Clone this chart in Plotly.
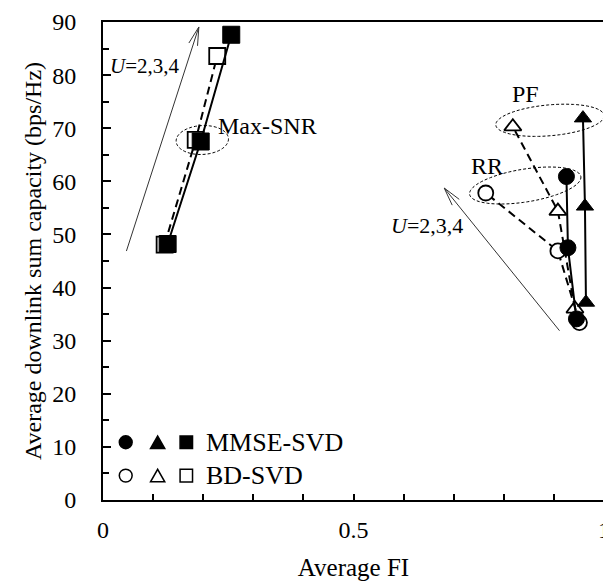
import math
import plotly.graph_objects as go

# ---------------- data ----------------
rr_mmse_fi = [0.945, 0.928, 0.925]
rr_mmse_cap = [34.1, 47.5, 60.9]
rr_bd_fi = [0.951, 0.908, 0.764]
rr_bd_cap = [33.4, 46.9, 57.8]

pf_mmse_fi = [0.964, 0.962, 0.958]
pf_mmse_cap = [37.2, 55.3, 71.9]
pf_bd_fi = [0.942, 0.908, 0.818]
pf_bd_cap = [36.0, 54.4, 70.3]

snr_mmse_fi = [0.129, 0.195, 0.256]
snr_mmse_cap = [48.2, 67.5, 87.6]
snr_bd_fi = [0.123, 0.185, 0.228]
snr_bd_cap = [48.1, 67.8, 83.6]

x_tick_vals = [0, 0.5, 1]
x_tick_text = ["0", "0.5", "1"]
y_tick_vals = [0, 10, 20, 30, 40, 50, 60, 70, 80, 90]

# ---------------- layout geometry (screen pixels) ----------------
OFF = 8                      # page body margin
W, H = 611 - OFF, 583 - OFF
PL, PR, PT, PB = 103, 610, 20, 500
XMAX, YMAX = 1.0, 90.0
FONT = "Liberation Serif, Times New Roman, serif"


def X(px):
    return (px - PL) / (PR - PL) * XMAX


def Y(py):
    return (PB - py) / (PB - PT) * YMAX


fig = go.Figure()

dash = "8px,5px"
BD_LINE = dict(color="black", width=2, dash=dash)
MM_LINE = dict(color="black", width=2)


def open_marker(symbol, size):
    return dict(symbol=symbol, size=size, color="white", line=dict(color="black", width=1.8))


def fill_marker(symbol, size):
    return dict(symbol=symbol, size=size, color="black", line=dict(color="black", width=1))


# BD-SVD first (drawn underneath)
fig.add_trace(go.Scatter(x=pf_bd_fi, y=pf_bd_cap, mode="lines+markers", line=BD_LINE,
                         marker=open_marker("triangle-up", 15), name="PF BD-SVD"))
fig.add_trace(go.Scatter(x=rr_bd_fi, y=rr_bd_cap, mode="lines+markers", line=BD_LINE,
                         marker=open_marker("circle", 15), name="RR BD-SVD"))
fig.add_trace(go.Scatter(x=snr_bd_fi, y=snr_bd_cap, mode="lines+markers", line=BD_LINE,
                         marker=open_marker("square", 16), name="Max-SNR BD-SVD"))
# MMSE-SVD
fig.add_trace(go.Scatter(x=pf_mmse_fi, y=pf_mmse_cap, mode="lines+markers", line=MM_LINE,
                         marker=fill_marker("triangle-up", 15), name="PF MMSE-SVD"))
fig.add_trace(go.Scatter(x=rr_mmse_fi, y=rr_mmse_cap, mode="lines+markers", line=MM_LINE,
                         marker=fill_marker("circle", 16), name="RR MMSE-SVD"))
fig.add_trace(go.Scatter(x=snr_mmse_fi, y=snr_mmse_cap, mode="lines+markers", line=MM_LINE,
                         marker=fill_marker("square", 17), name="Max-SNR MMSE-SVD"))

shapes = []


def ellipse(cx, cy, a, b, ang_deg, n=80):
    t = math.radians(ang_deg)
    pts = []
    for k in range(n + 1):
        th = 2 * math.pi * k / n
        ex, ey = a * math.cos(th), b * math.sin(th)
        px = cx + ex * math.cos(t) - ey * math.sin(t)
        py = cy + ex * math.sin(t) + ey * math.cos(t)
        pts.append(f"{X(px):.5f},{Y(py):.4f}")
    path = "M" + " L".join(pts) + " Z"
    shapes.append(dict(type="path", path=path, xref="x", yref="y",
                       line=dict(color="black", width=1, dash="3px,2px")))


ellipse(203.5, 138.5, 26.5, 14.5, -3)
ellipse(555.3, 118.7, 55, 15.5, -5)
ellipse(530.3, 184.2, 57, 16.5, -9)


def arrow(tx, ty, hx, hy, wing=19, spread=14):
    shapes.append(dict(type="line", xref="x", yref="y", x0=X(tx), y0=Y(ty), x1=X(hx), y1=Y(hy),
                       line=dict(color="#333", width=1)))
    ang = math.atan2(ty - hy, tx - hx)
    for s in (-1, 1):
        a = ang + s * math.radians(spread)
        wx, wy = hx + wing * math.cos(a), hy + wing * math.sin(a)
        shapes.append(dict(type="line", xref="x", yref="y", x0=X(hx), y0=Y(hy), x1=X(wx), y1=Y(wy),
                           line=dict(color="#333", width=1)))


arrow(126.7, 250, 200, 25)
arrow(565, 330, 448.3, 186.7)


# legend (drawn as shapes)
def leg_circle(cx, cy, filled, r=6.5):
    shapes.append(dict(type="circle", xref="x", yref="y", x0=X(cx - r), x1=X(cx + r),
                       y0=Y(cy + r), y1=Y(cy - r),
                       fillcolor="black" if filled else "white",
                       line=dict(color="black", width=1.5)))


def leg_square(cx, cy, filled, h=6.3):
    shapes.append(dict(type="rect", xref="x", yref="y", x0=X(cx - h), x1=X(cx + h),
                       y0=Y(cy + h), y1=Y(cy - h),
                       fillcolor="black" if filled else "white",
                       line=dict(color="black", width=1.5)))


def leg_tri(cx, cy, filled, w=7.2, h=12.5):
    p = (f"M{X(cx - w):.5f},{Y(cy + h/2):.4f} L{X(cx + w):.5f},{Y(cy + h/2):.4f} "
         f"L{X(cx):.5f},{Y(cy - h/2):.4f} Z")
    shapes.append(dict(type="path", path=p, xref="x", yref="y",
                       fillcolor="black" if filled else "white",
                       line=dict(color="black", width=1.5)))


for row_y, filled in ((442, True), (475.5, False)):
    leg_circle(126, row_y, filled)
    leg_tri(158.3, row_y, filled)
    leg_square(187.3, row_y, filled)

annotations = [
    dict(x=X(205), y=Y(442), text="MMSE-SVD", xanchor="left", yanchor="middle",
         font=dict(size=26)),
    dict(x=X(205), y=Y(475.5), text="BD-SVD", xanchor="left", yanchor="middle",
         font=dict(size=26)),
    dict(x=X(146), y=Y(64), text="<i>U</i>=2,3,4", xanchor="center", yanchor="middle",
         font=dict(size=21)),
    dict(x=X(431), y=Y(224), text="<i>U</i>=2,3,4", xanchor="center", yanchor="middle",
         font=dict(size=22)),
    dict(x=X(217), y=Y(124), text="Max-SNR", xanchor="left", yanchor="middle"),
    dict(x=X(531), y=Y(92), text="PF", xanchor="center", yanchor="middle"),
    dict(x=X(492), y=Y(165), text="RR", xanchor="center", yanchor="middle"),
]
for a in annotations:
    a.setdefault("xref", "x")
    a.setdefault("yref", "y")
    a["showarrow"] = False
    f = dict(family=FONT, size=24, color="black")
    f.update(a.get("font", {}))
    a["font"] = f

fig.update_layout(
    width=W, height=H,
    margin=dict(l=PL - OFF, r=W - (PR - OFF), t=PT - OFF, b=H - (PB - OFF)),
    paper_bgcolor="white", plot_bgcolor="white",
    showlegend=False,
    font=dict(family=FONT, size=24, color="black"),
    shapes=shapes,
    annotations=annotations,
    xaxis=dict(
        range=[0, XMAX], tickvals=x_tick_vals, ticktext=x_tick_text,
        ticks="inside", ticklen=6, tickwidth=1.5, tickcolor="black",
        minor=dict(dtick=0.1, ticks="inside", ticklen=6, tickwidth=1.5, tickcolor="black"),
        showline=True, linewidth=2, linecolor="black", mirror=True,
        showgrid=False, zeroline=False, ticklabelstandoff=7,
        ticklabeloverflow="allow",
        title=dict(text="Average FI", standoff=17, font=dict(family=FONT, size=25)),
        tickfont=dict(family=FONT, size=24),
    ),
    yaxis=dict(
        range=[0, YMAX], tickvals=y_tick_vals,
        ticks="inside", ticklen=8, tickwidth=1.5, tickcolor="black",
        minor=dict(dtick=5, ticks="inside", ticklen=6, tickwidth=1.5, tickcolor="black"),
        showline=True, linewidth=2, linecolor="black", mirror=True,
        showgrid=False, zeroline=False, ticklabelstandoff=20,
        ticklabeloverflow="allow",
        title=dict(text="Average downlink sum capacity (bps/Hz)", standoff=4,
                   font=dict(family=FONT, size=24)),
        tickfont=dict(family=FONT, size=24),
    ),
)

fig.write_html("out.html")
